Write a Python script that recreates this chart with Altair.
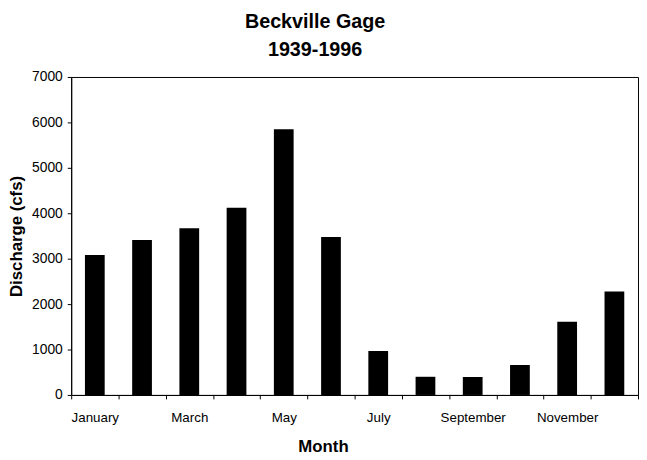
import altair as alt
import pandas as pd

months = ["January", "February", "March", "April", "May", "June", "July",
          "August", "September", "October", "November", "December"]
discharge = [3080, 3410, 3670, 4120, 5850, 3480, 970, 400, 395, 660, 1610, 2280]
shown_labels = ["January", "March", "May", "July", "September", "November"]
y_ticks = [0, 1000, 2000, 3000, 4000, 5000, 6000, 7000]

df = pd.DataFrame({"Month": months, "Discharge": discharge})

label_expr = "indexof(" + str(shown_labels).replace('"', "'") + ", datum.value) >= 0 ? datum.value : ''"

FONT = "Liberation Sans"

chart = alt.Chart(df).mark_bar(size=20, color="black").encode(
    x=alt.X("Month:N", sort=months,
            scale=alt.Scale(paddingInner=0, paddingOuter=0),
            axis=alt.Axis(title="Month", labelAngle=0, labelExpr=label_expr,
                          tickBand="extent", tickSize=4, labelPadding=12,
                          labelFont=FONT, labelFontSize=13.5, labelColor="black",
                          titleFont=FONT, titleFontSize=17, titleFontWeight="bold",
                          titleColor="black", titleX=255, titleY=57,
                          titleBaseline="alphabetic", titleAlign="center",
                          domainColor="black", tickColor="black", grid=False)),
    y=alt.Y("Discharge:Q",
            scale=alt.Scale(domain=[0, 7000], nice=False),
            axis=alt.Axis(title="Discharge (cfs)", values=y_ticks, format="d",
                          tickSize=4, labelPadding=5,
                          labelFont=FONT, labelFontSize=14, labelColor="black",
                          titleFont=FONT, titleFontSize=17, titleFontWeight="bold",
                          titleColor="black", titleAngle=-90, titleX=-50, titleY=161,
                          titleBaseline="alphabetic", titleAlign="center",
                          domainColor="black", tickColor="black", grid=False)),
).properties(
    width=574,
    height=322,
    title=alt.TitleParams(text=["Beckville Gage", "1939-1996"], font=FONT,
                          fontSize=20, fontWeight="bold", color="black",
                          lineHeight=29, anchor="middle", frame="group",
                          dx=-40, offset=10),
    autosize=alt.AutoSizeParams(type="none"),
    padding={"left": 64, "top": 67, "right": 1, "bottom": 62},
).configure(background="white").configure_view(stroke="black", strokeWidth=1)

chart.save("out.html", embed_options={"renderer": "svg", "actions": False})
